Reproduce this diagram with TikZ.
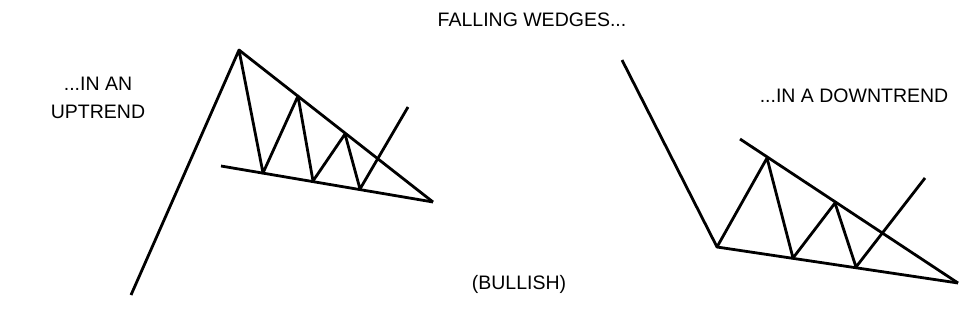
\documentclass[tikz,border=0pt]{standalone}
\usepackage{fontspec}
\setmainfont{Liberation Sans}
\begin{document}
\begin{tikzpicture}[x=1pt,y=-1pt,
  trend/.style={line width=2.8pt,line join=round},
  lbl/.style={font=\fontsize{19.5}{28.5}\selectfont,inner sep=0pt,align=center}]
\useasboundingbox (0,0) rectangle (963,333);
% left: uptrend
\coordinate (L0) at (131,295);
\coordinate (L1) at (239,50);
\coordinate (L2) at (263,173);
\coordinate (L3) at (298,96);
\coordinate (L4) at (313,181);
\coordinate (L5) at (345,134);
\coordinate (L6) at (360,189);
\coordinate (L7) at (408,107);
\coordinate (LA) at (433,202);
\coordinate (LB) at (221,166);
\draw[trend] (L0) -- (L1) -- (L2) -- (L3) -- (L4) -- (L5) -- (L6) -- (L7);
\draw[trend] (L1) -- (LA);
\draw[trend] (LB) -- (LA);
% right: downtrend
\coordinate (R0) at (622,60);
\coordinate (R1) at (717,247);
\coordinate (R2) at (767,158);
\coordinate (R3) at (793,258);
\coordinate (R4) at (835,203);
\coordinate (R5) at (856,267);
\coordinate (R6) at (925,178);
\coordinate (RA) at (958,283);
\coordinate (RB) at (740,139);
\draw[trend] (R0) -- (R1) -- (R2) -- (R3) -- (R4) -- (R5) -- (R6);
\draw[trend] (R1) -- (RA);
\draw[trend] (RB) -- (RA);
% labels
\node[lbl] (title) at (532,20) {FALLING WEDGES...};
\node[lbl] (up) at (98,98) {...IN AN\\UPTREND};
\node[lbl] (down) at (854,96) {...IN A DOWNTREND};
\node[lbl] (bull) at (519,284) {(BULLISH)};
\end{tikzpicture}
\end{document}
